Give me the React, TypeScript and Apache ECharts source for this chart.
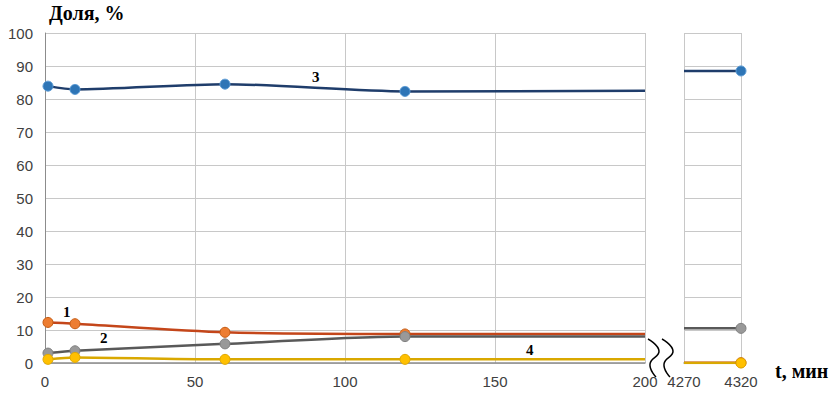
import React, { useEffect, useRef } from "react";
import * as echarts from "echarts";

const timesLeft = [1, 10, 60, 120, 200];
const timesRight = [4270, 4320];
const s1Left = [12.3, 11.9, 9.3, 8.8, 8.8];
const s2Left = [3.0, 3.7, 5.8, 8.0, 8.0];
const s3Left = [83.9, 82.9, 84.5, 82.3, 82.5];
const s4Left = [1.1, 1.7, 1.1, 1.1, 1.1];
const s1Right = [0.1, 0.1];
const s2Right = [10.5, 10.5];
const s3Right = [88.5, 88.5];
const s4Right = [0, 0];
const yTicks = [0, 10, 20, 30, 40, 50, 60, 70, 80, 90, 100];
const seriesLabels = ["1", "2", "3", "4"];

const styles = [
  { line: "#c4461a", fill: "#ed7d31", border: "#c55a11" },
  { line: "#595959", fill: "#999999", border: "#7f7f7f" },
  { line: "#1f3d6b", fill: "#2e75b6", border: "#5b9bd5" },
  { line: "#d9a800", fill: "#ffc000", border: "#e0a800" },
];

function mk(xs: number[], ys: number[], lastMarkerless: boolean, firstMarkerless: boolean) {
  return xs.map((x, i) => {
    const item: any = { value: [x, ys[i]] };
    if ((lastMarkerless && i === xs.length - 1) || (firstMarkerless && i === 0)) item.symbol = "none";
    return item;
  });
}

export default function App() {
  const ref = useRef<HTMLDivElement>(null);
  useEffect(() => {
    const chart = echarts.init(ref.current!, undefined, { renderer: "svg" });
    const lefts = [s1Left, s2Left, s3Left, s4Left];
    const rights = [s1Right, s2Right, s3Right, s4Right];
    const series: any[] = [];
    [0, 1, 3, 2].forEach((k) => {
      const st = styles[k];
      const common = {
        type: "line",
        symbol: "circle",
        symbolSize: 10,
        smooth: 0.25,
        lineStyle: { color: st.line, width: 2.5 },
        itemStyle: { color: st.fill, borderColor: st.border, borderWidth: 1 },
        z: k === 2 ? 5 : 3,
      };
      series.push({ ...common, name: "L" + k, xAxisIndex: 0, yAxisIndex: 0, data: mk(timesLeft, lefts[k], true, false) });
      series.push({ ...common, smooth: false, name: "R" + k, xAxisIndex: 1, yAxisIndex: 1, data: mk(timesRight, rights[k], false, true) });
    });
    const labelFont = { fontFamily: "Liberation Serif", fontWeight: "bold", fontSize: 15, fill: "#000" };
    const axisLabel = { color: "#404040", fontSize: 15, fontFamily: "Liberation Sans", formatter: (v: number) => String(v) };
    const splitLine = { show: true, lineStyle: { color: "#c8c8c8", width: 1 } };
    chart.setOption({
      animation: false,
      grid: [
        { left: 45, top: 33, width: 600, height: 330 },
        { left: 684, top: 33, width: 57, height: 330 },
      ],
      xAxis: [
        {
          type: "value", gridIndex: 0, min: 0, max: 200, interval: 50,
          axisLine: { show: true, onZero: false, lineStyle: { color: "#8c8c8c", width: 1.5 } },
          axisTick: { show: false }, axisLabel: { ...axisLabel, margin: 11 }, splitLine,
        },
        {
          type: "value", gridIndex: 1, min: 4270, max: 4320, interval: 50,
          axisLine: { show: true, onZero: false, lineStyle: { color: "#8c8c8c", width: 1.5 } },
          axisTick: { show: false }, axisLabel: { ...axisLabel, margin: 11 }, splitLine,
        },
      ],
      yAxis: [
        {
          type: "value", gridIndex: 0, min: yTicks[0], max: yTicks[yTicks.length - 1], interval: 10,
          axisLine: { show: true, lineStyle: { color: "#8c8c8c", width: 1 } },
          axisTick: { show: false }, axisLabel: { ...axisLabel, margin: 12 }, splitLine,
        },
        {
          type: "value", gridIndex: 1, min: 0, max: 100, interval: 10,
          axisLine: { show: false }, axisTick: { show: false }, axisLabel: { show: false }, splitLine,
        },
      ],
      series,
      graphic: [
        { type: "text", left: 49, top: 3, style: { text: "Доля, %", fontFamily: "Liberation Serif", fontWeight: "bold", fontSize: 20, fill: "#000" } },
        { type: "text", left: 775, top: 361, style: { text: "t, мин", fontFamily: "Liberation Serif", fontWeight: "bold", fontSize: 20, fill: "#000" } },
        { type: "text", left: 63, top: 304, style: { ...labelFont, text: seriesLabels[0] } },
        { type: "text", left: 100, top: 330, style: { ...labelFont, text: seriesLabels[1] } },
        { type: "text", left: 312, top: 69, style: { ...labelFont, text: seriesLabels[2] } },
        { type: "text", left: 526, top: 342, style: { ...labelFont, text: seriesLabels[3] } },
        { type: "polyline", shape: { points: [[648, 339], [659, 351], [650, 364], [656, 377]], smooth: 0.5 }, style: { stroke: "#000", lineWidth: 1.5, fill: "none" } },
        { type: "polyline", shape: { points: [[662, 339], [673, 351], [664, 364], [670, 377]], smooth: 0.5 }, style: { stroke: "#000", lineWidth: 1.5, fill: "none" } },
      ],
    });
    return () => chart.dispose();
  }, []);
  return <div ref={ref} style={{ width: 834, height: 400, position: "absolute", left: 0, top: 0 }} />;
}
